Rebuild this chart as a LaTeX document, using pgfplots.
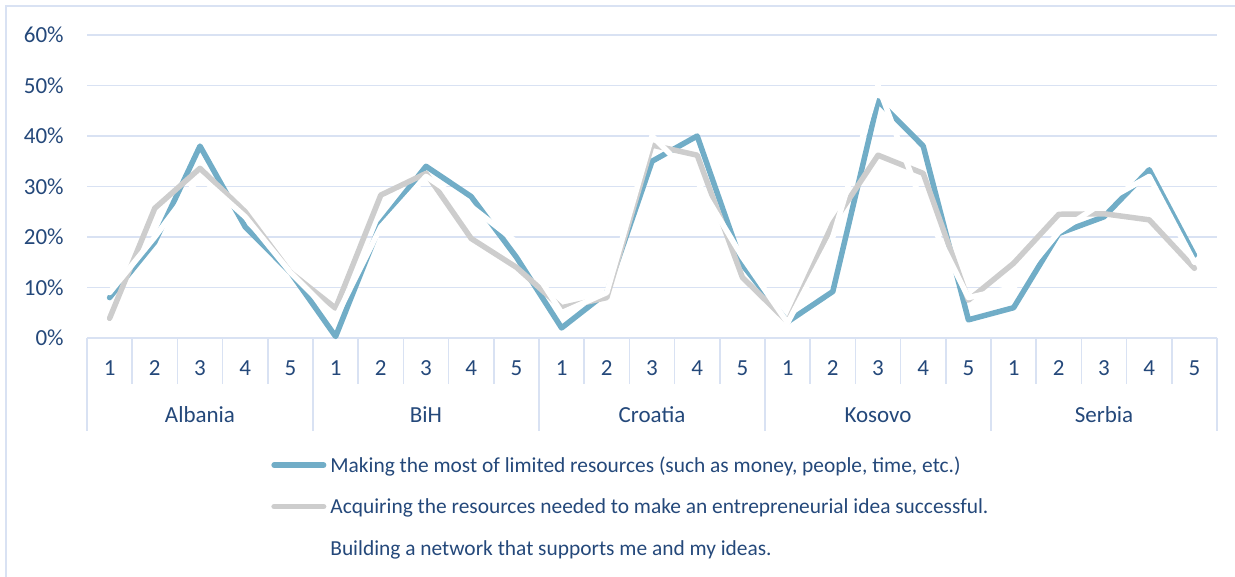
\documentclass[border=0pt]{standalone}
\usepackage{pgfplots}
\pgfplotsset{compat=1.18}
\usepackage{fontspec}
\setmainfont{Carlito}
\definecolor{txt}{HTML}{24487A}
\definecolor{gridc}{HTML}{D9E2F3}
\definecolor{sblue}{HTML}{71ADC7}
\definecolor{sgray}{HTML}{CDCDCD}
\newcommand{\lblfont}{\fontsize{11.5}{13}\selectfont}
\newcommand{\legfont}{\fontsize{10.7}{12.5}\selectfont}
\begin{document}
\begin{tikzpicture}
\path[use as bounding box] (0pt,0pt) rectangle (617.5pt,288.5pt);
\draw[gridc, line width=0.75pt] (3pt,0pt) -- (3pt,285.5pt) -- (620pt,285.5pt);
\begin{axis}[
  at={(43.5pt,119.5pt)}, anchor=south west,
  scale only axis, width=565pt, height=151.5pt,
  xmin=0, xmax=25, ymin=0, ymax=60,
  clip=false,
  axis line style={draw=none},
  tick pos=left,
  ymajorgrids, grid style={gridc, line width=0.75pt},
  ytick={0,10,...,60},
  yticklabel={\pgfmathparse{int(\tick)}\pgfmathresult\%},
  yticklabel style={anchor=east, inner sep=0pt, xshift=-11.5pt, font=\lblfont, text=txt},
  xtick={0.5,1.5,...,24.5},
  xticklabels={1,2,3,4,5,1,2,3,4,5,1,2,3,4,5,1,2,3,4,5,1,2,3,4,5},
  xticklabel style={anchor=center, inner sep=0pt, yshift=-15pt, font=\lblfont, text=txt},
  major tick length=0pt,
  minor xtick={0,1,...,25}, minor tick length=23pt, tick align=outside,
  minor tick style={gridc, line width=0.75pt},
  extra x ticks={0,5,10,15,20,25}, extra x tick labels={},
  extra x tick style={major tick length=46.5pt, xmajorgrids=false, major tick style={gridc, line width=0.75pt}},
  legend style={at={(0.1628,-0.3498)}, anchor=north west, draw=none, fill=none,
    inner sep=0pt, row sep=0pt, font=\legfont, text=txt, legend cell align=left,
    nodes={inner sep=0pt, text height=14pt, text depth=6.75pt}},
  legend image code/.code={\draw[#1, line cap=round] (1.375pt,0pt) -- (26.125pt,0pt);},
]
\addplot[sblue, line width=2.75pt, line join=round, line cap=round] coordinates {
(0.5,8) (1.5,19) (2.5,38) (3.5,22) (4.5,13)
(5.5,0.3) (6.5,22.7) (7.5,34) (8.5,28) (9.5,16)
(10.5,2) (11.5,9) (12.5,35) (13.5,40) (14.5,14.5)
(15.5,3.2) (16.5,9.2) (17.5,47) (18.5,38) (19.5,3.6)
(20.5,6) (21.5,20.7) (22.5,24) (23.5,33.3) (24.5,16.4)};
\addlegendentry{\hspace{2pt}Making the most of limited resources (such as money, people, time, etc.)}
\addplot[sgray, line width=2.75pt, line join=round, line cap=round] coordinates {
(0.5,3.9) (1.5,25.7) (2.5,33.6) (3.5,25) (4.5,13)
(5.5,5.9) (6.5,28.3) (7.5,32.6) (8.5,19.7) (9.5,14)
(10.5,6) (11.5,8) (12.5,38.2) (13.5,36.2) (14.5,12)
(15.5,3.2) (16.5,22.7) (17.5,36.2) (18.5,32.6) (19.5,7.5)
(20.5,14.8) (21.5,24.5) (22.5,24.6) (23.5,23.4) (24.5,13.8)};
\addlegendentry{\hspace{2pt}Acquiring the resources needed to make an entrepreneurial idea successful.}
\addplot[white, line width=2.75pt, line join=round, line cap=round] coordinates {
(0.5,9) (1.5,20) (2.5,32) (3.5,24) (4.5,13)
(5.5,4) (6.5,22) (7.5,32) (8.5,26) (9.5,19)
(10.5,5) (11.5,9) (12.5,40) (13.5,31) (14.5,16)
(15.5,3) (16.5,20) (17.5,50) (18.5,26) (19.5,8)
(20.5,10) (21.5,21) (22.5,27) (23.5,32) (24.5,15)};
\addlegendentry{\hspace{2pt}Building a network that supports me and my ideas.}
\node[font=\lblfont, text=txt, inner sep=0pt, yshift=-38.5pt] at (axis cs:2.5,0) {Albania};
\node[font=\lblfont, text=txt, inner sep=0pt, yshift=-38.5pt] at (axis cs:7.5,0) {BiH};
\node[font=\lblfont, text=txt, inner sep=0pt, yshift=-38.5pt] at (axis cs:12.5,0) {Croatia};
\node[font=\lblfont, text=txt, inner sep=0pt, yshift=-38.5pt] at (axis cs:17.5,0) {Kosovo};
\node[font=\lblfont, text=txt, inner sep=0pt, yshift=-38.5pt] at (axis cs:22.5,0) {Serbia};
\end{axis}
\end{tikzpicture}
\end{document}
